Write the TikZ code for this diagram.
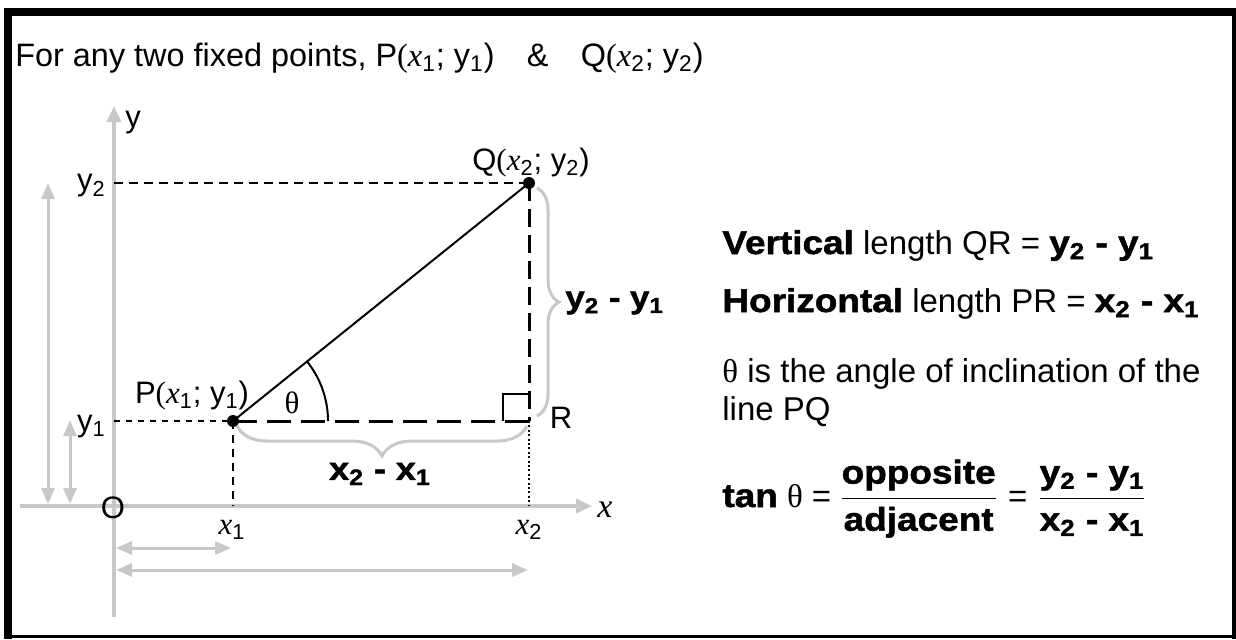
\documentclass[tikz,border=0pt]{standalone}
\usepackage{amsmath}
\usepackage{fontspec}
\setmainfont{Liberation Sans}[BoldFeatures={FakeBold=1.5,FakeStretch=1.12}]
\newfontfamily\seriffont{Liberation Serif}
\usepackage{tikz}
\usetikzlibrary{arrows.meta,decorations.pathreplacing}
\definecolor{axisgray}{HTML}{C8C8C8}
\newcommand{\sub}[1]{\textsubscript{#1}}
\newcommand{\xs}{{\seriffont\itshape x}}
\newcommand{\thet}{{\seriffont θ}}

\tikzset{
  axis/.style={axisgray,line width=2pt,-{Triangle[length=8pt,width=7pt]}},
  span/.style={axisgray,line width=1.5pt,{Triangle[length=8pt,width=6.5pt]}-{Triangle[length=8pt,width=6.5pt]}},
  guide/.style={line width=1pt,dash pattern=on 4.5pt off 3pt},
  side/.style={line width=1.5pt,dash pattern=on 12pt off 5pt},
  bracegray/.style={axisgray,line width=1.5pt,decorate,decoration={brace,amplitude=#1}},
  lbl/.style={font=\fontsize{15.5}{18}\selectfont,inner sep=0pt},
  txt/.style={font=\fontsize{16.5}{19}\selectfont,inner sep=0pt,anchor=base west},
}

\begin{document}
\begin{tikzpicture}[x=0.5pt,y=-0.5pt]
\useasboundingbox (0,0) rectangle (1236,639);
% frame
\fill[white] (0,0) rectangle (1236,639);
\fill (4,8) rectangle (1236,16);
\fill (4,8) rectangle (12,639);
\fill (1232,8) rectangle (1236,639);
\fill (4,635) rectangle (1236,638);
% the points
\coordinate (O) at (114,506);
\coordinate (P) at (233,421);
\coordinate (Q) at (529,183);
\coordinate (R) at (529,421);
% axes and spans
\draw[axis] (20,506) -- (592,506);
\draw[axis] (114,617) -- (114,106);
\draw[span] (48,183) -- (48,504);
\draw[span] (70,420) -- (70,504);
\draw[span] (116,548) -- (231,548);
\draw[span] (116,570) -- (528,570);
% guides
\draw[guide] (O |- Q) -- (Q);
\draw[guide,line width=0.8pt,dash pattern=on 3pt off 3pt] (O |- P) -- (P);
\draw[guide,line width=0.8pt,dash pattern=on 4pt off 3pt] (P) -- (P |- O);
\draw[line width=1pt,dash pattern=on 1pt off 1.2pt] (R) -- (R |- O);
\draw[side] (P) -- (R);
\draw[side,dash pattern=on 9pt off 4pt] (Q) -- (R);
\draw[line width=1pt] (P) -- (Q);
\fill (P) circle[radius=3pt];
\fill (Q) circle[radius=3pt];
\draw[line width=1pt] (P) ++(95,0) arc[start angle=0,end angle=-38.8,radius=95];
\draw[line width=1pt] (R) ++(-26,0) -- ++(0,-27) -- ++(26,0);
% braces
\draw[bracegray=11pt] (537,188) -- (537,416);
\draw[bracegray=15pt] (527,426) -- (237,426);
% labels
\node[lbl,anchor=base west] (ylab) at (125,127) {y};
\node[lbl,anchor=east] (y2lab) at (106,186) {y\sub{2}};
\node[lbl,anchor=east] (y1lab) at (106,427) {y\sub{1}};
\node[lbl] (olab) at (113,508) {O};
\node[lbl] (x1lab) at (232,530) {\xs\sub{1}};
\node[lbl] (x2lab) at (529,530) {\xs\sub{2}};
\node[lbl,font=\seriffont\itshape\fontsize{17}{19}\selectfont] (xlab) at (605,510) {x};
\node[lbl,anchor=base] (plab) at (192,403) {P{\seriffont(}\xs\sub{1}; y\sub{1})};
\node[lbl,anchor=base] (qlab) at (531,170) {Q{\seriffont(}\xs\sub{2}; y\sub{2})};
\node[lbl] (thlab) at (292,403) {\thet};
\node[lbl] (rlab) at (561,418) {R};
\node[lbl,font=\bfseries\fontsize{15.5}{18}\selectfont,anchor=west] (dy) at (565,303) {y\sub{2} - y\sub{1}};
\node[lbl,font=\bfseries\fontsize{16}{18}\selectfont] (dx) at (380,474) {x\sub{2} - x\sub{1}};
% text
\node[txt,font=\fontsize{16.2}{19}\selectfont] (title) at (15,66) {For any two fixed points, P{\seriffont(}\xs\sub{1}; y\sub{1})\quad\&\quad Q{\seriffont(}\xs\sub{2}; y\sub{2})};
\node[txt] (vert) at (722,254) {\textbf{Vertical} length QR = \textbf{y\sub{2} - y\sub{1}}};
\node[txt] (horz) at (722,312) {\textbf{Horizontal} length PR = \textbf{x\sub{2} - x\sub{1}}};
\node[txt] (incl) at (722,382) {\thet{} is the angle of inclination of the};
\node[txt] (pq) at (722,420) {line PQ};
\node[txt] (tan) at (722,507) {\textbf{tan} \thet{} =\hspace{4pt}$\dfrac{\text{\bfseries opposite}}{\text{\bfseries adjacent}}$\hspace{5pt}=\hspace{5pt}$\dfrac{\text{\bfseries y\sub{2} - y\sub{1}}}{\text{\bfseries x\sub{2} - x\sub{1}}}$};
\end{tikzpicture}
\end{document}
